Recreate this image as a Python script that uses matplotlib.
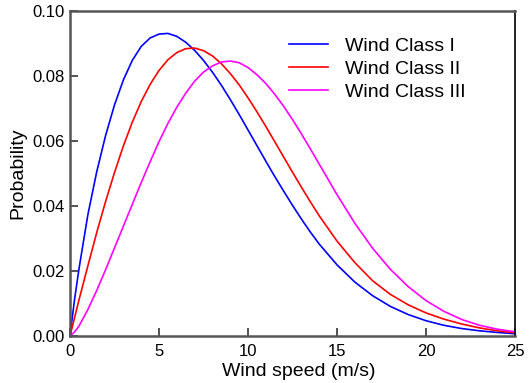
import matplotlib
matplotlib.use("Agg")
import matplotlib.pyplot as plt

plt.rcParams['font.family'] = ['Liberation Sans', 'DejaVu Sans']

# Wind speed sample points (m/s)
speed = [0, 0.25, 0.5, 1, 1.5, 2, 2.5, 3, 3.5, 4, 4.5, 5, 5.5, 6, 6.5, 7, 7.5, 8, 8.5, 9, 9.5,
         10, 10.5, 11, 11.5, 12, 12.5, 13, 13.5, 14, 15, 16, 17, 18, 19, 20, 21, 22, 23, 24, 25]

class_1 = [0, 0.0110, 0.0205, 0.0372, 0.0505, 0.0617, 0.0711, 0.0788, 0.0848, 0.0891, 0.0917,
           0.0929, 0.0931, 0.0922, 0.0904, 0.0879, 0.0848, 0.0812, 0.0772, 0.0728, 0.0682,
           0.0634, 0.0586, 0.0538, 0.0491, 0.0446, 0.0402, 0.0360, 0.0320, 0.0283,
           0.0219, 0.0166, 0.0124, 0.0091, 0.0066, 0.0047, 0.0033, 0.0023, 0.0016, 0.0011, 0.0007]

class_2 = [0, 0.0055, 0.0110, 0.0215, 0.0318, 0.0414, 0.0503, 0.0585, 0.0658, 0.0721, 0.0774,
           0.0817, 0.0850, 0.0872, 0.0884, 0.0886, 0.0878, 0.0862, 0.0838, 0.0808, 0.0773,
           0.0733, 0.0690, 0.0645, 0.0598, 0.0551, 0.0504, 0.0458, 0.0413, 0.0370,
           0.0292, 0.0226, 0.0170, 0.0128, 0.0096, 0.0071, 0.0052, 0.0037, 0.0025, 0.0016, 0.0010]

class_3 = [0, 0.0012, 0.0030, 0.0081, 0.0140, 0.0204, 0.0271, 0.0338, 0.0405, 0.0472, 0.0536,
           0.0598, 0.0654, 0.0704, 0.0747, 0.0784, 0.0812, 0.0831, 0.0843, 0.0846, 0.0841,
           0.0826, 0.0804, 0.0777, 0.0744, 0.0707, 0.0666, 0.0622, 0.0576, 0.0529,
           0.0435, 0.0347, 0.0270, 0.0205, 0.0152, 0.0109, 0.0076, 0.0051, 0.0033, 0.0021, 0.0013]

labels = ["Wind Class I", "Wind Class II", "Wind Class III"]
colors = ["#0000ff", "#ff0000", "#ff00ff"]

fig = plt.figure(figsize=(5.30, 3.83), dpi=100)
ax = fig.add_axes([70/530, 47/383, 445/530, 325/383])

for ys, lab, col in zip([class_1, class_2, class_3], labels, colors):
    ax.plot(speed, ys, color=col, lw=1.2, label=lab)

ax.set_xlim(0, 25)
ax.set_ylim(0, 0.10)
ax.set_xticks([0, 5, 10, 15, 20, 25])
ax.set_yticks([0, 0.02, 0.04, 0.06, 0.08, 0.10])
ax.set_yticklabels(["0.00", "0.02", "0.04", "0.06", "0.08", "0.10"])
ax.tick_params(direction='in', length=6, width=1.3, color='#444444', labelsize=12, pad=4)
ax.tick_params(axis='x', pad=6)

for s in ['left', 'bottom', 'top']:
    ax.spines[s].set_color('#555555')
    ax.spines[s].set_linewidth(1.8)
ax.spines['right'].set_color('#111111')
ax.spines['right'].set_linewidth(1.3)

ax.set_xlabel("Wind speed (m/s)", fontsize=14, labelpad=0)
ax.xaxis.set_label_coords(0.5 + 6/445, -27/325)
ax.set_ylabel("Probability", fontsize=14, labelpad=4)

leg = ax.legend(loc='upper left', bbox_to_anchor=(289/530, 1 - 37/383), bbox_transform=fig.transFigure,
                frameon=False, fontsize=14, handlelength=2.0, handletextpad=0.9,
                labelspacing=0.28, borderpad=0, borderaxespad=0)

fig.savefig("out.png", dpi=100)
